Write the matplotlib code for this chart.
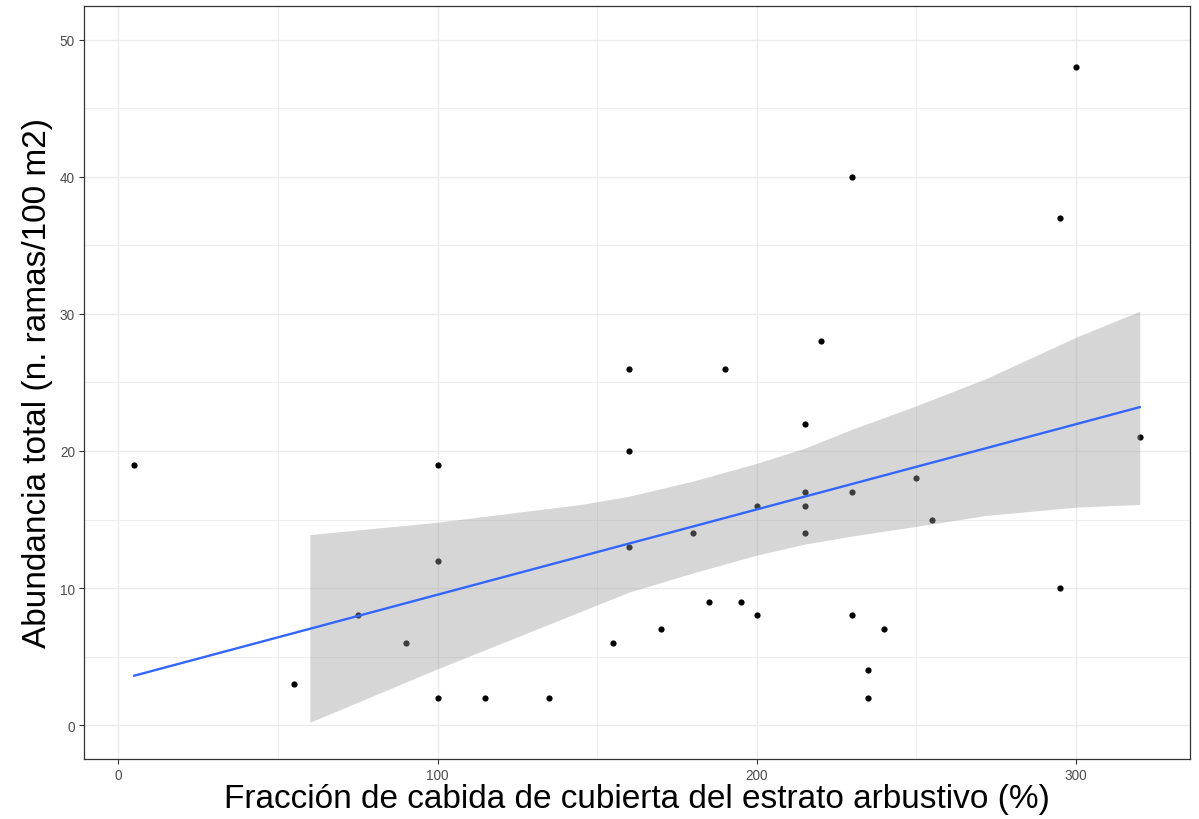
import matplotlib
matplotlib.use("Agg")
import matplotlib.pyplot as plt
import numpy as np

plt.rcParams["font.family"] = ["Liberation Sans", "DejaVu Sans"]

# shrub cover fraction (%) vs total abundance (branches / 100 m2)
cobertura = [5, 55, 75, 90, 100, 100, 100, 115, 135, 155, 160, 160, 160, 170,
             180, 185, 190, 195, 200, 200, 215, 215, 215, 215, 220, 230, 230,
             230, 235, 235, 240, 250, 255, 295, 295, 300, 320]
abundancia = [19, 3, 8, 6, 19, 12, 2, 2, 2, 6, 26, 20, 13, 7,
              14, 9, 26, 9, 16, 8, 22, 17, 16, 14, 28, 40, 17,
              8, 4, 2, 7, 18, 15, 37, 10, 48, 21]

# fitted trend and its confidence band
ajuste_x = [5, 320]
ajuste_y = [3.6, 23.2]
banda_x = [60, 100, 145, 160, 180, 200, 215, 230, 250, 272, 300, 320]
banda_sup = [13.9, 14.8, 16.1, 16.7, 17.8, 19.1, 20.2, 21.6, 23.3, 25.3, 28.3, 30.2]
banda_inf = [0.2, 4.1, 8.3, 9.7, 11.1, 12.4, 13.2, 13.8, 14.5, 15.3, 15.9, 16.1]

x_ticks = [0, 100, 200, 300]
y_ticks = [0, 10, 20, 30, 40, 50]

W, H = 1199, 820
fig = plt.figure(figsize=(W / 100, H / 100), dpi=100)
ax = fig.add_axes([84 / W, (H - 760) / H, (1190 - 84) / W, (760 - 6.7) / H])

ax.scatter(cobertura, abundancia, s=20, color="black", linewidths=0, zorder=2)
ax.fill_between(banda_x, banda_inf, banda_sup, color="#999999", alpha=0.4,
                linewidth=0, zorder=3)
ax.plot(ajuste_x, ajuste_y, color="#3366FF", lw=1.7, zorder=4)

ax.set_xlim(-10.75, 335.75)
ax.set_ylim(-2.48, 52.5)
ax.set_xticks(x_ticks)
ax.set_yticks(y_ticks)
ax.set_xticks([50, 150, 250], minor=True)
ax.set_yticks([5, 15, 25, 35, 45], minor=True)
ax.grid(which="major", color="#EBEBEB", lw=1.0, zorder=0)
ax.grid(which="minor", color="#EBEBEB", lw=0.6, zorder=0)
ax.set_axisbelow(True)

ax.tick_params(which="major", length=3.5, width=0.8, color="#333333",
               labelcolor="#4D4D4D", labelsize=9.8, pad=3)
ax.tick_params(which="minor", length=0)
for s in ax.spines.values():
    s.set_color("#333333")
    s.set_linewidth(0.9)

ax.set_xlabel("Fracción de cabida de cubierta del estrato arbustivo (%)",
              fontsize=24, labelpad=1)
ax.set_ylabel("Abundancia total (n. ramas/100 m2)", fontsize=24, labelpad=5)

fig.savefig("out.png", dpi=100)
